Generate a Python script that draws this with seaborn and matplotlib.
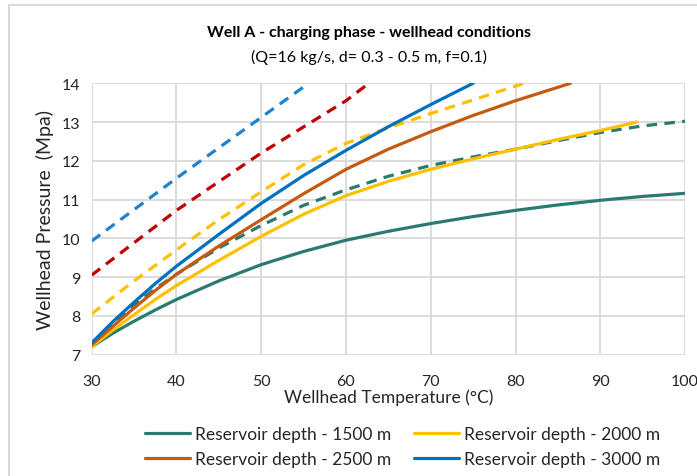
import matplotlib
matplotlib.use("Agg")
import matplotlib.pyplot as plt
from matplotlib.lines import Line2D
from matplotlib.patches import Rectangle
import seaborn as sns
import pandas as pd

# ---- data ----
t_1500 = [30, 32.5, 35, 37.5, 40, 45, 50, 55, 60, 65, 70, 75, 80, 85, 90, 95, 100]
p_1500 = [7.2, 7.55, 7.86, 8.15, 8.42, 8.9, 9.32, 9.66, 9.95, 10.18, 10.38, 10.56, 10.72, 10.86, 10.98, 11.08, 11.16]

t_2000 = [30, 32.5, 35, 37.5, 40, 45, 50, 55, 60, 65, 70, 75, 80, 85, 90, 94.3]
p_2000 = [7.2, 7.63, 8.03, 8.42, 8.78, 9.43, 10.05, 10.62, 11.1, 11.47, 11.78, 12.05, 12.3, 12.55, 12.78, 13.0]

t_2500 = [30, 32.5, 35, 37.5, 40, 45, 50, 55, 60, 65, 70, 75, 80, 86.5]
p_2500 = [7.25, 7.73, 8.2, 8.65, 9.07, 9.8, 10.48, 11.15, 11.78, 12.3, 12.75, 13.17, 13.55, 14.0]

t_3000 = [30, 32.5, 35, 37.5, 40, 45, 50, 55, 60, 65, 70, 75]
p_3000 = [7.3, 7.85, 8.35, 8.83, 9.28, 10.1, 10.9, 11.62, 12.27, 12.88, 13.45, 14.0]

# dashed series
t_1500d = [30, 32.5, 35, 37.5, 40, 45, 50, 55, 60, 65, 70, 75, 80, 85, 90, 95, 100]
p_1500d = [7.25, 7.78, 8.27, 8.7, 9.07, 9.75, 10.33, 10.85, 11.25, 11.6, 11.88, 12.1, 12.3, 12.52, 12.73, 12.9, 13.02]

t_2000d = [30, 35, 40, 45, 50, 55, 60, 65, 70, 75, 81]
p_2000d = [8.05, 8.9, 9.7, 10.48, 11.2, 11.9, 12.45, 12.85, 13.22, 13.57, 14.0]

t_2500d = [30, 40, 50, 60, 62.7]
p_2500d = [9.05, 10.72, 12.2, 13.55, 14.0]

t_3000d = [30, 40, 50, 55.6]
p_3000d = [9.93, 11.55, 13.12, 14.0]

labels = ["Reservoir depth - 1500 m", "Reservoir depth - 2000 m",
          "Reservoir depth - 2500 m", "Reservoir depth - 3000 m"]
x_ticks = [30, 40, 50, 60, 70, 80, 90, 100]
y_ticks = [7, 8, 9, 10, 11, 12, 13, 14]

TEAL = "#2A7B6F"
YELLOW = "#FFC000"
ORANGE = "#C55A11"
BLUE = "#0070C0"
RED = "#C00000"
BLUE_D = "#1F82CF"

sns.set_theme(style="whitegrid")
plt.rcParams["font.family"] = ["Lato", "DejaVu Sans"]

fig = plt.figure(figsize=(6.97, 4.77), dpi=100)
ax = fig.add_axes([0.1316, 0.2547, 0.8512, 0.5686])

lw = 2.3
solid = [(t_1500, p_1500, TEAL), (t_2000, p_2000, YELLOW),
         (t_2500, p_2500, ORANGE), (t_3000, p_3000, BLUE)]
dashed = [(t_1500d, p_1500d, TEAL), (t_2000d, p_2000d, YELLOW),
          (t_2500d, p_2500d, RED), (t_3000d, p_3000d, BLUE_D)]

for t, p, c in dashed:
    df = pd.DataFrame({"T": t, "P": p})
    l = sns.lineplot(data=df, x="T", y="P", ax=ax, color=c, linewidth=lw,
                     sort=False, estimator=None)
    l.lines[-1].set_dashes((3.3, 2.3))
for t, p, c in solid:
    df = pd.DataFrame({"T": t, "P": p})
    sns.lineplot(data=df, x="T", y="P", ax=ax, color=c, linewidth=lw,
                 sort=False, estimator=None)

ax.set_xlim(30, 100)
ax.set_ylim(7, 14)
ax.set_xticks(x_ticks)
ax.set_yticks(y_ticks)
ax.grid(True, color="#D9D9D9", linewidth=1.3)
for s in ax.spines.values():
    s.set_visible(False)
ax.tick_params(axis="both", labelsize=11.5, length=0)
ax.tick_params(axis="y", pad=8)
ax.tick_params(axis="x", pad=14)
for lab in ax.get_xticklabels() + ax.get_yticklabels():
    lab.set_color("#262626")

ax.set_xlabel("Wellhead Temperature (°C)", fontsize=12.5, color="#262626", labelpad=0)
ax.set_ylabel("Wellhead Pressure  (Mpa)", fontsize=14, color="#262626", labelpad=6)

fig.text(0.53, 0.930, "Well A - charging phase - wellhead conditions",
         ha="center", va="center", fontsize=11.5, fontweight="bold", color="#000000")
fig.text(0.53, 0.880, "(Q=16 kg/s, d= 0.3 - 0.5 m, f=0.1)",
         ha="center", va="center", fontsize=11.5, color="#000000")

handles = [Line2D([], [], color=c, linewidth=lw) for _, _, c in solid]
order = [0, 2, 1, 3]
leg = fig.legend([handles[i] for i in order], [labels[i] for i in order],
                 loc="center", bbox_to_anchor=(0.578, 0.062), ncol=2, frameon=False,
                 fontsize=12.5, handlelength=2.6, handletextpad=0.3,
                 columnspacing=1.3, labelspacing=0.55)
for txt in leg.get_texts():
    txt.set_color("#262626")

fig.patches.append(Rectangle((9 / 697, -0.05), 1.1, 1 - 6 / 477 + 0.05,
                             transform=fig.transFigure, fill=False,
                             edgecolor="#D9D9D9", linewidth=1.5))

fig.savefig("out.png", dpi=100, facecolor="white")
